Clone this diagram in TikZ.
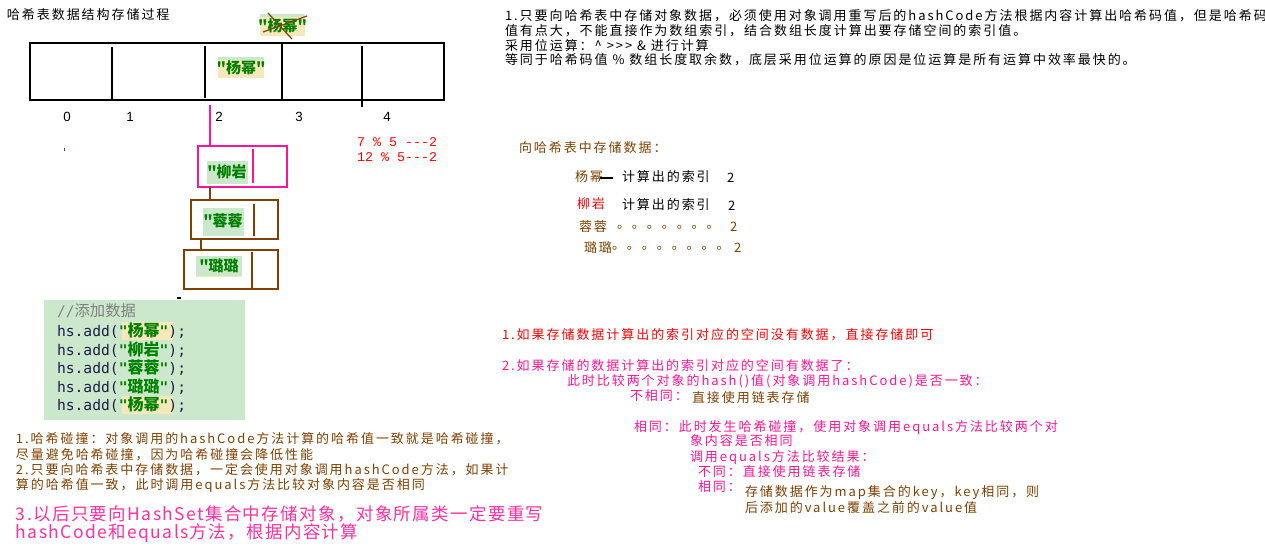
\documentclass[tikz,border=0pt]{standalone}
\usepackage{fontspec}
\setmainfont{Noto Sans CJK SC}
\newfontfamily\zh[LetterSpace=15]{Noto Sans CJK SC}
\newfontfamily\zhp[LetterSpace=8]{Noto Sans CJK SC}
\newfontfamily\zhb{Noto Sans CJK SC}
\newfontfamily\cmono{DejaVu Sans Mono}
\newfontfamily\lmono{Liberation Mono}
\newfontfamily\lsans{Liberation Sans}
\definecolor{brn}{HTML}{804000}
\definecolor{pnk}{HTML}{FF1493}
\definecolor{pnkb}{HTML}{FF2FA0}
\definecolor{codebg}{HTML}{CCE8CC}
\definecolor{strbg}{HTML}{F5E9BC}
\definecolor{strg}{HTML}{008000}
\definecolor{codefg}{HTML}{1E1E46}
\definecolor{cmtg}{HTML}{808080}
\newcommand\qc[1]{{\color{strg}\bfseries"{\zhb\fontsize{12pt}{12pt}\selectfont#1}"}}
\begin{document}
\begin{tikzpicture}[x=0.75pt,y=-0.75pt,
  every node/.style={inner sep=0pt,outer sep=0pt},
  txt/.style={anchor=west,font=\zh\fontsize{9.75pt}{11pt}\selectfont},
  big/.style={anchor=west,font=\zhp\fontsize{13.1pt}{14pt}\selectfont,text=pnkb},
  idx/.style={font=\lsans\fontsize{10pt}{11pt}\selectfont},
  calc/.style={anchor=west,font=\lmono\fontsize{10pt}{11pt}\selectfont,text=red},
  lbl/.style={font=\zhb\bfseries\fontsize{11.25pt}{12pt}\selectfont,text=strg},
  codeln/.style={anchor=west,font=\cmono\fontsize{11pt}{12pt}\selectfont,text=codefg},
  bx/.style={draw,line width=0.9pt,anchor=north west},
  ln/.style={line width=0.9pt}]
\path[use as bounding box] (0,0) rectangle (1265,557);

% title
\node[txt] (title) at (7,15) {哈希表数据结构存储过程};

% crossed label on top
\fill[strbg] (260,14) rectangle (305,36);
\fill[codebg] (260,14) rectangle (305,17);
\node[lbl] (toplbl) at (282.5,26) {"杨幂"};
\draw[brn,line width=0.9pt] (268,13) -- (292,39);
\draw[brn,line width=0.9pt] (263,32) -- (307,16);

% array
\node[bx,minimum width=310.5pt,minimum height=42.75pt] (arr) at (30,43) {};
\draw[ln] (112,47) -- (112,100);
\draw[ln] (205,46) -- (205,98);
\draw[ln] (282,44) -- (282,100);
\draw[ln] (362,46) -- (362,107);
\fill[strbg] (218,57) rectangle (264,78);
\fill[codebg] (218,57) rectangle (264,60);
\node[lbl] (cell2) at (241,68) {"杨幂"};

% indices
\node[idx] (i0) at (67,117) {0};
\node[idx] (i1) at (130,117) {1};
\node[idx] (i2) at (219,117) {2};
\node[idx] (i3) at (299,117) {3};
\node[idx] (i4) at (387,117) {4};

\node[calc] (m1) at (357,142) {7 \% 5 -{}-{}-2};
\node[calc] (m2) at (357,157) {12 \% 5-{}-{}-2};

\fill[brn] (63.5,148) rectangle (64.5,151);

% linked list
\coordinate (p0) at (210,105);
\coordinate (q0) at (201,239);
\node[bx,draw=pnk,minimum width=66.75pt,minimum height=30.75pt] (b1) at (198,146) {};
\draw[pnk,ln] (253,149) -- (253,183);
\fill[codebg] (207,161) rectangle (248,184);
\node[lbl] (l1) at (227,172) {"柳岩};
\draw[pnk,ln] (p0) -- (p0 |- b1.north);

\node[bx,draw=brn,minimum width=65.25pt,minimum height=29.25pt] (b2) at (191,200) {};
\draw[brn,ln] (254,204) -- (254,236);
\fill[codebg] (203,208) rectangle (244,236);
\node[lbl] (l2) at (223,221) {"蓉蓉};
\draw[brn,ln] (b1.south -| p0) -- (b2.north -| p0);

\node[bx,draw=brn,minimum width=70.5pt,minimum height=29.25pt] (b3) at (184,250) {};
\draw[brn,ln] (252,252) -- (252,289);
\fill[codebg] (196,256) rectangle (242,277);
\fill[strbg] (196,276) rectangle (242,277);
\node[lbl] (l3) at (219,266) {"璐璐};
\draw[brn,ln] (q0) -- (b3.north -| q0);

% code block
\fill (177,297) rectangle (181,299);
\node[anchor=north west,fill=codebg,minimum width=150.75pt,minimum height=90pt] (code) at (44,300) {};
\fill[strbg] (122,322) rectangle (173,340);
\fill[strbg] (122,396) rectangle (173,414);
\node[codeln,text=cmtg] (c0) at (57,311) {//{\zhb\fontsize{11.5pt}{12pt}\selectfont 添加数据}};
\node[codeln] (c1) at (57,331) {hs.add(\qc{杨幂});};
\node[codeln] (c2) at (57,349.5) {hs.add(\qc{柳岩});};
\node[codeln] (c3) at (57,368) {hs.add(\qc{蓉蓉});};
\node[codeln] (c4) at (57,386.5) {hs.add(\qc{璐璐});};
\node[codeln] (c5) at (57,405) {hs.add(\qc{杨幂});};

% bottom left notes
\node[txt,text=brn] (n1) at (16,439) {1.哈希碰撞：对象调用的hashCode方法计算的哈希值一致就是哈希碰撞，};
\node[txt,text=brn] (n2) at (16,454.5) {尽量避免哈希碰撞，因为哈希碰撞会降低性能};
\node[txt,text=brn] (n3) at (16,470) {2.只要向哈希表中存储数据，一定会使用对象调用hashCode方法，如果计};
\node[txt,text=brn] (n4) at (16,485) {算的哈希值一致，此时调用equals方法比较对象内容是否相同};
\node[big] (n5) at (16,514) {3.以后只要向HashSet集合中存储对象，对象所属类一定要重写};
\node[big] (n6) at (16,533) {hashCode和equals方法，根据内容计算};

% top right notes
\node[txt] (t1) at (505,16) {1.只要向哈希表中存储对象数据，必须使用对象调用重写后的hashCode方法根据内容计算出哈希码值，但是哈希码};
\node[txt] (t2) at (505,31) {值有点大，不能直接作为数组索引，结合数组长度计算出要存储空间的索引值。};
\node[txt] (t3) at (505,45.5) {采用位运算：\textasciicircum{} >>> \& 进行计算};
\node[txt] (t4) at (505,60) {等同于哈希码值 \% 数组长度取余数，底层采用位运算的原因是位运算是所有运算中效率最快的。};

% middle right
\node[txt,text=brn] (h1) at (519,148) {向哈希表中存储数据：};
\node[txt,text=brn] (r1a) at (575,177) {杨幂};
\draw[line width=0.8pt] (600,178) -- (613,178);
\node[txt] (r1b) at (622,177) {计算出的索引};
\node[txt] (r1c) at (727,178) {2};
\node[txt,text=red] (r2a) at (577,204) {柳岩};
\node[txt] (r2b) at (622,205) {计算出的索引};
\node[txt] (r2c) at (728,206) {2};
\node[txt,text=brn] (r3a) at (579,227) {蓉蓉};
\node[txt,text=brn] (r3b) at (617,227) {。。。。。。。};
\node[txt,text=brn] (r3c) at (730,227) {2};
\node[txt,text=brn] (r4a) at (584,248) {璐璐};
\node[txt,text=brn] (r4b) at (612,248) {。。。。。。。。};
\node[txt,text=brn] (r4c) at (734,248) {2};

% bottom right
\node[txt,text=red] (s1) at (502,335) {1.如果存储数据计算出的索引对应的空间没有数据，直接存储即可};
\node[txt,text=pnk] (s2) at (502,366) {2.如果存储的数据计算出的索引对应的空间有数据了：};
\node[txt,text=pnk] (s3) at (567,381) {此时比较两个对象的hash()值(对象调用hashCode)是否一致：};
\node[txt,text=pnk] (s4) at (630,396) {不相同：};
\node[txt,text=brn] (s4b) at (692,398) {直接使用链表存储};
\node[txt,text=pnk] (s5) at (634,427) {相同：此时发生哈希碰撞，使用对象调用equals方法比较两个对};
\node[txt,text=pnk] (s6) at (690,441) {象内容是否相同};
\node[txt,text=pnk] (s7) at (690,457) {调用equals方法比较结果：};
\node[txt,text=pnk] (s8) at (698,472) {不同：直接使用链表存储};
\node[txt,text=pnk] (s9) at (698,487) {相同：};
\node[txt,text=brn] (s10) at (745,493) {存储数据作为map集合的key，key相同，则};
\node[txt,text=brn] (s11) at (745,508) {后添加的value覆盖之前的value值};
\end{tikzpicture}
\end{document}
